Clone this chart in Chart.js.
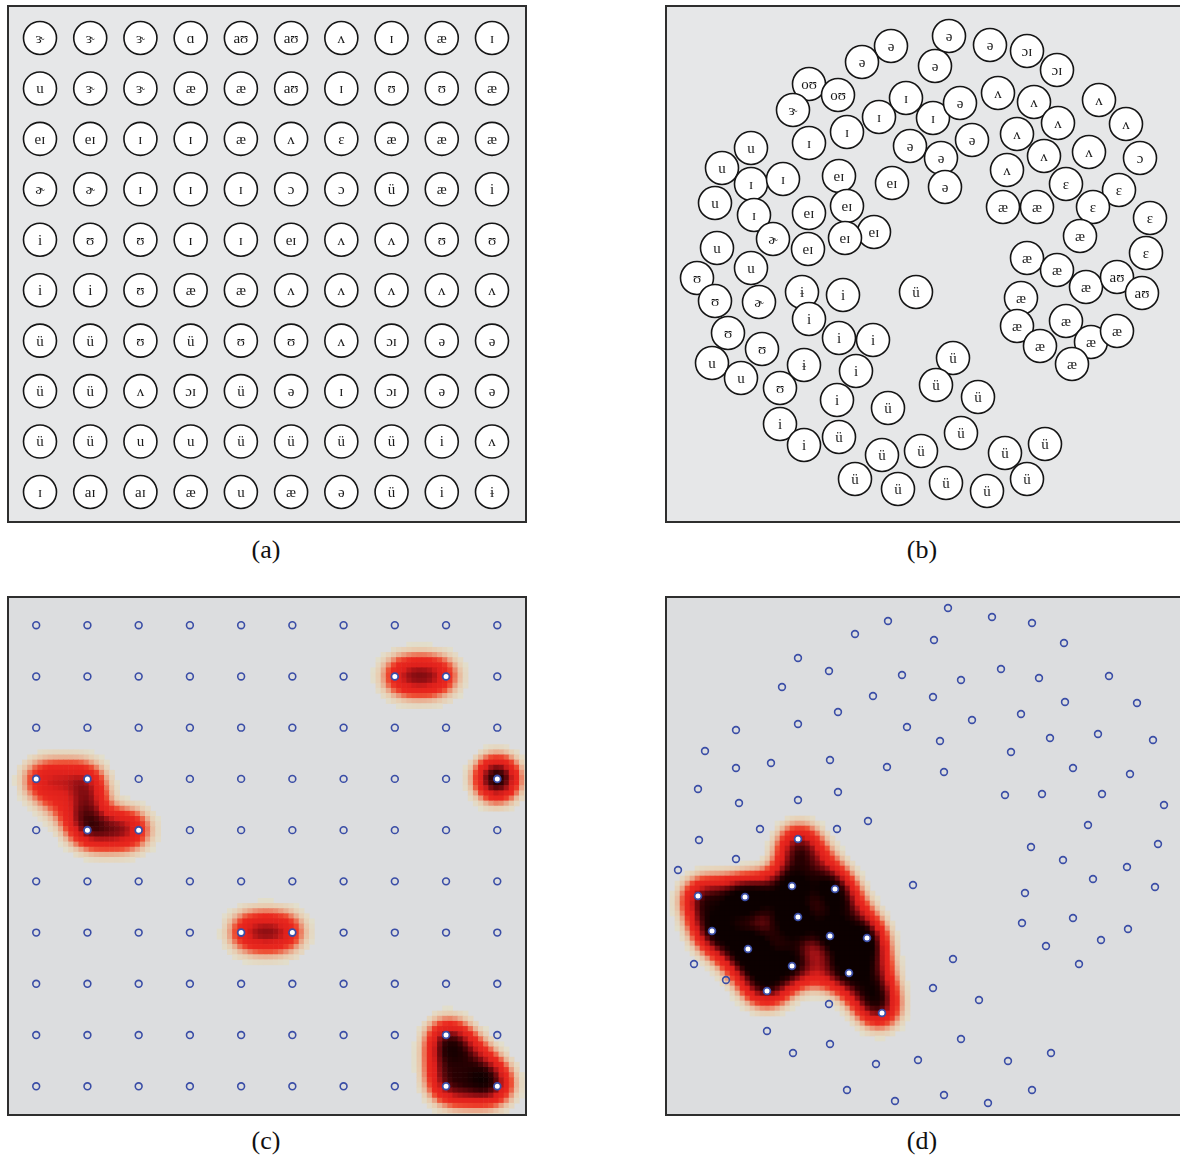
<!DOCTYPE html>
<html>
<head>
<meta charset="utf-8">
<script src="https://cdn.jsdelivr.net/npm/chart.js@4.4.0/dist/chart.umd.min.js"></script>
<style>
	html, body { margin: 0; padding: 0; background: #fff; width: 1180px; height: 1158px; overflow: hidden; }
	canvas { position: absolute; }
	.cap { position: absolute; width: 120px; text-align: center; font-family: "Liberation Serif", "Times New Roman", serif; font-size: 26px; line-height: 30px; color: #111; }
</style>
</head>
<body>
<canvas id="chart-a" width="520" height="518" style="left:7px;top:5px;width:520px;height:518px"></canvas>
<canvas id="chart-b" width="520" height="518" style="left:665px;top:5px;width:520px;height:518px"></canvas>
<canvas id="chart-c" width="520" height="520" style="left:7px;top:596px;width:520px;height:520px"></canvas>
<canvas id="chart-d" width="520" height="520" style="left:665px;top:596px;width:520px;height:520px"></canvas>
<div class="cap" style="left:206px;top:535px">(a)</div>
<div class="cap" style="left:862px;top:535px">(b)</div>
<div class="cap" style="left:206px;top:1126px">(c)</div>
<div class="cap" style="left:862px;top:1126px">(d)</div>
<script>
// ================ data ================
// (a) labels of the 10x10 map, row by row
const gridLabelsA = [
	["ɝ", "ɝ", "ɝ", "ɑ", "aʊ", "aʊ", "ʌ", "ɪ", "æ", "ɪ"],
	["u", "ɝ", "ɝ", "æ", "æ", "aʊ", "ɪ", "ʊ", "ʊ", "æ"],
	["eɪ", "eɪ", "ɪ", "ɪ", "æ", "ʌ", "ɛ", "æ", "æ", "æ"],
	["ɚ", "ɚ", "ɪ", "ɪ", "ɪ", "ɔ", "ɔ", "ü", "æ", "i"],
	["i", "ʊ", "ʊ", "ɪ", "ɪ", "eɪ", "ʌ", "ʌ", "ʊ", "ʊ"],
	["i", "i", "ʊ", "æ", "æ", "ʌ", "ʌ", "ʌ", "ʌ", "ʌ"],
	["ü", "ü", "ʊ", "ü", "ʊ", "ʊ", "ʌ", "ɔɪ", "ə", "ə"],
	["ü", "ü", "ʌ", "ɔɪ", "ü", "ə", "ɪ", "ɔɪ", "ə", "ə"],
	["ü", "ü", "u", "u", "ü", "ü", "ü", "ü", "i", "ʌ"],
	["ɪ", "aɪ", "aɪ", "æ", "u", "æ", "ə", "ü", "i", "ɨ"],
];

// (b) units of the self-organised map: [label, x, y]
const mapUnitsB = [
	["ə", 284, 31], ["ə", 226, 41], ["ə", 197, 57], ["ə", 325, 40], ["ɔɪ", 362, 46], ["ɔɪ", 392, 65], ["ə", 270, 61],
	["oʊ", 144, 79], ["oʊ", 173, 90], ["ɝ", 128, 105], ["ɪ", 241, 93], ["ɪ", 214, 112], ["ɪ", 182, 127], ["ɪ", 144, 138], ["ɪ", 268, 113],
	["ə", 295, 98], ["ə", 245, 141], ["ə", 276, 153], ["ə", 307, 135], ["ə", 280, 182],
	["ʌ", 333, 88], ["ʌ", 369, 97], ["ʌ", 393, 118], ["ʌ", 352, 129], ["ʌ", 379, 151], ["ʌ", 342, 165],
	["ʌ", 434, 95], ["ʌ", 461, 119], ["ʌ", 424, 147], ["ɔ", 475, 153],
	["ɛ", 401, 179], ["ɛ", 454, 185], ["ɛ", 428, 202], ["ɛ", 485, 213], ["ɛ", 481, 248],
	["æ", 338, 202], ["æ", 372, 202], ["æ", 415, 231], ["æ", 362, 253], ["æ", 392, 265], ["æ", 421, 282],
	["aʊ", 452, 272], ["aʊ", 477, 288],
	["æ", 356, 293], ["æ", 352, 321], ["æ", 375, 341], ["æ", 401, 316], ["æ", 426, 337], ["æ", 407, 359], ["æ", 452, 326],
	["u", 86, 143], ["u", 57, 163], ["ɪ", 86, 179], ["ɪ", 118, 174], ["u", 50, 198], ["ɪ", 89, 210],
	["eɪ", 174, 171], ["eɪ", 227, 178], ["eɪ", 144, 208], ["eɪ", 182, 201], ["eɪ", 209, 227], ["eɪ", 180, 233], ["eɪ", 143, 244],
	["ɚ", 108, 234], ["u", 52, 243], ["u", 86, 263], ["ʊ", 32, 273], ["ʊ", 50, 296], ["ɚ", 94, 297],
	["ʊ", 63, 328], ["ʊ", 97, 344], ["u", 47, 358], ["u", 76, 373],
	["ɨ", 137, 287], ["i", 178, 290], ["i", 144, 314], ["i", 174, 333], ["i", 208, 335], ["ɨ", 139, 360],
	["ʊ", 115, 383], ["i", 191, 366], ["i", 172, 395], ["i", 115, 419], ["i", 139, 440],
	["ü", 174, 432], ["ü", 223, 403], ["ü", 217, 450], ["ü", 190, 474], ["ü", 233, 484],
	["ü", 251, 287], ["ü", 288, 353], ["ü", 271, 380], ["ü", 313, 392], ["ü", 296, 428],
	["ü", 256, 446], ["ü", 281, 478], ["ü", 322, 486], ["ü", 340, 448], ["ü", 380, 439], ["ü", 362, 474],
];

// (c) active units on the grid [row, col], trajectory links [r1, c1, r2, c2, weight], spots [row, col, weight]
const activeC = [[2, 8], [2, 9], [4, 1], [4, 2], [5, 2], [5, 3], [4, 10], [7, 5], [7, 6], [9, 9], [10, 9], [10, 10]];
const trajC = [
	[2, 8, 2, 9, 1.0],
	[4, 1, 4, 2, 0.6], [4, 2, 5, 2, 0.85], [5, 2, 5, 3, 1.0], [4, 1, 5, 2, 0.3],
	[7, 5, 7, 6, 0.95],
	[9, 9, 10, 9, 0.9], [10, 9, 10, 10, 1.0], [9, 9, 10, 10, 1.0],
];
const spotsC = [[4, 10, 1.4]];

// (d) inactive units [x, y], active units [x, y], trajectory links between active units [i, j, weight]
const unitsD = [
	[283, 12], [223, 25], [327, 21], [367, 27], [190, 38], [269, 44], [399, 47], [133, 62], [164, 75], [237, 79],
	[296, 84], [336, 73], [374, 82], [444, 80], [117, 91], [208, 100], [268, 101], [400, 106], [472, 107], [173, 116],
	[356, 118], [71, 134], [133, 128], [242, 131], [307, 124], [433, 138], [385, 142], [488, 144], [275, 145], [40, 155],
	[71, 172], [106, 167], [165, 164], [222, 171], [279, 176], [346, 156], [408, 172], [465, 178], [33, 193], [74, 207],
	[133, 204], [173, 196], [340, 199], [377, 198], [437, 198], [499, 209], [203, 225], [423, 229], [95, 233], [172, 233],
	[34, 244], [366, 251], [493, 248], [71, 263], [398, 264], [462, 271], [13, 274], [428, 283], [490, 291], [248, 289],
	[360, 297], [357, 327], [408, 322], [463, 333], [436, 344], [381, 350], [414, 368], [288, 363], [268, 392], [314, 404],
	[29, 368], [61, 384], [164, 408], [102, 435], [128, 457], [165, 448], [211, 468], [253, 464], [296, 443], [343, 465],
	[386, 457], [182, 494], [230, 505], [279, 499], [323, 507], [367, 494],
];
const activeD = [
	[133, 243], [33, 300], [80, 301], [127, 290], [170, 293], [133, 321], [47, 335],
	[83, 353], [165, 340], [202, 342], [127, 370], [184, 377], [102, 395], [217, 417],
];
const trajD = [
	[0, 3, 0.9], [0, 4, 0.7], [1, 2, 0.9], [2, 3, 0.9], [3, 4, 0.9], [1, 6, 0.9], [2, 6, 0.8], [3, 5, 0.9],
	[2, 5, 0.8], [4, 8, 0.9], [4, 9, 0.8], [5, 8, 0.9], [5, 7, 0.8], [6, 7, 0.9], [7, 10, 0.9], [7, 12, 0.9],
	[10, 12, 0.9], [5, 10, 0.9], [8, 11, 0.9], [8, 9, 0.9], [9, 11, 0.9], [11, 13, 0.9], [9, 13, 0.9], [10, 11, 0.6],
	[2, 7, 0.6], [6, 12, 0.5],
];

// colour ramp of the activation map
const HEAT_STOPS = [
	[0.04, [226, 222, 204]],
	[0.1, [232, 206, 178]],
	[0.18, [234, 162, 132]],
	[0.28, [238, 82, 54]],
	[0.4, [234, 40, 30]],
	[0.68, [222, 32, 28]],
	[0.88, [152, 16, 20]],
	[1.05, [104, 8, 12]],
	[1.3, [42, 0, 2]],
	[1.6, [12, 0, 0]],
];

const NODE_BLUE = "#3a4da6";
const LABEL_FONT = '15px "Liberation Serif", "DejaVu Serif", serif';

// ================ helpers ================
function erf(x) {
	const s = Math.sign(x);
	x = Math.abs(x);
	const t = 1 / (1 + 0.3275911 * x);
	const y = 1 - ((((1.061405429 * t - 1.453152027) * t + 1.421413741) * t - 0.284496736) * t + 0.254829592) * t * Math.exp(-x * x);
	return s * y;
}
function phi(z) {
	return 0.5 * (1 + erf(z / Math.SQRT2));
}
// gaussian smeared along a link a->b
function linkHeat(px, py, ax, ay, bx, by, w, s) {
	const dx = bx - ax, dy = by - ay;
	const len = Math.hypot(dx, dy);
	const ux = dx / len, uy = dy / len;
	const t = (px - ax) * ux + (py - ay) * uy;
	const perp = -(px - ax) * uy + (py - ay) * ux;
	return w * Math.exp(-perp * perp / (2 * s * s)) * (phi((len - t) / s) - phi(-t / s));
}
function spotHeat(px, py, cx, cy, w, s) {
	const d2 = (px - cx) ** 2 + (py - cy) ** 2;
	return w * Math.exp(-d2 / (2 * s * s));
}
function heatColor(v) {
	const s = HEAT_STOPS;
	if (v >= s[s.length - 1][0]) return `rgb(${s[s.length - 1][1].join(",")})`;
	for (let i = 1; i < s.length; i++) {
		if (v < s[i][0]) {
			const t = (v - s[i - 1][0]) / (s[i][0] - s[i - 1][0]);
			const c = s[i - 1][1].map((a, k) => Math.round(a + (s[i][1][k] - a) * t));
			return `rgb(${c.join(",")})`;
		}
	}
}
function buildHeat(xr, yr, step, field) {
	const cells = [];
	const colors = [];
	for (let y = yr[0] + step / 2; y < yr[1]; y += step) {
		for (let x = xr[0] + step / 2; x < xr[1]; x += step) {
			const v = field(x, y);
			if (v < 0.04) continue;
			cells.push({ x, y });
			colors.push(heatColor(v));
		}
	}
	return { cells, colors };
}

function framePlugin(bg) {
	return {
		id: "frame",
		beforeDraw(chart) {
			const { ctx, chartArea: a } = chart;
			ctx.save();
			ctx.fillStyle = bg;
			ctx.fillRect(a.left, a.top, a.right - a.left, a.bottom - a.top);
			ctx.restore();
		},
		afterDraw(chart) {
			const { ctx, chartArea: a } = chart;
			ctx.save();
			ctx.strokeStyle = "#2e2e2e";
			ctx.lineWidth = 2;
			ctx.strokeRect(a.left + 1, a.top + 1, a.right - a.left - 2, a.bottom - a.top - 2);
			ctx.restore();
		},
	};
}

const labelPlugin = {
	id: "ipaLabels",
	afterDatasetsDraw(chart) {
		const ctx = chart.ctx;
		const ds = chart.data.datasets[0];
		const meta = chart.getDatasetMeta(0);
		ctx.save();
		ctx.font = LABEL_FONT;
		ctx.fillStyle = "#1a1a1a";
		ctx.textAlign = "center";
		ctx.textBaseline = "middle";
		meta.data.forEach((pt, i) => ctx.fillText(ds.data[i].label, pt.x, pt.y + 1));
		ctx.restore();
	},
};

function baseOptions(xr, yr) {
	return {
		responsive: false,
		animation: false,
		events: [],
		devicePixelRatio: 1,
		layout: { padding: 0, autoPadding: false },
		plugins: { legend: { display: false }, tooltip: { enabled: false } },
		scales: {
			x: { type: "linear", min: xr[0], max: xr[1], display: false },
			y: { type: "linear", min: yr[0], max: yr[1], reverse: true, display: false },
		},
	};
}

function circleDataset(data) {
	return {
		data,
		pointRadius: 16.5,
		pointBackgroundColor: "#ffffff",
		pointBorderColor: "#151515",
		pointBorderWidth: 1.6,
	};
}

// ================ (a) ================
const xrA = [0.343, 10.697];
const yrA = [0.346, 10.615];
const dataA = [];
gridLabelsA.forEach((row, r) => row.forEach((label, c) => dataA.push({ x: c + 1, y: r + 1, label })));
new Chart(document.getElementById("chart-a"), {
	type: "scatter",
	data: { datasets: [circleDataset(dataA)] },
	options: baseOptions(xrA, yrA),
	plugins: [framePlugin("#e6e7e8"), labelPlugin],
});

// ================ (b) ================
const dataB = mapUnitsB.map(([label, x, y]) => ({ x, y, label }));
new Chart(document.getElementById("chart-b"), {
	type: "scatter",
	data: { datasets: [circleDataset(dataB)] },
	options: baseOptions([0, 520], [0, 518]),
	plugins: [framePlugin("#e6e7e8"), labelPlugin],
});

// ================ (c) ================
const xrC = [0.43, 10.58];
const yrC = [0.43, 10.58];
const sigmaC = 0.25;
const heatC = buildHeat(xrC, yrC, 0.1, (x, y) => {
	let v = 0;
	for (const [r1, c1, r2, c2, w] of trajC) v += linkHeat(x, y, c1, r1, c2, r2, w, sigmaC);
	for (const [r, c, w] of spotsC) v += spotHeat(x, y, c, r, w, sigmaC);
	return v;
});
const isActiveC = (r, c) => activeC.some(([ar, ac]) => ar === r && ac === c);
const idleC = [];
for (let r = 1; r <= 10; r++) for (let c = 1; c <= 10; c++) if (!isActiveC(r, c)) idleC.push({ x: c, y: r });
const pxPerUnitC = 520 / (xrC[1] - xrC[0]);

new Chart(document.getElementById("chart-c"), {
	type: "scatter",
	data: {
		datasets: [
			{ data: activeC.map(([r, c]) => ({ x: c, y: r })), pointRadius: 3.4, pointBackgroundColor: "#ffffff", pointBorderColor: NODE_BLUE, pointBorderWidth: 1.8 },
			{ data: idleC, pointRadius: 3.4, pointBackgroundColor: "rgba(0,0,0,0)", pointBorderColor: NODE_BLUE, pointBorderWidth: 1.6 },
			{ data: heatC.cells, pointStyle: "rect", pointRadius: (0.1 * pxPerUnitC + 0.6) / Math.SQRT2, pointBackgroundColor: heatC.colors, pointBorderWidth: 0 },
		],
	},
	options: baseOptions(xrC, yrC),
	plugins: [framePlugin("#dcdddf")],
});

// ================ (d) ================
const sigmaD = 12.5;
const heatD = buildHeat([0, 520], [0, 520], 5, (x, y) => {
	let v = 0;
	for (const [i, j, w] of trajD) v += linkHeat(x, y, activeD[i][0], activeD[i][1], activeD[j][0], activeD[j][1], w, sigmaD);
	return v;
});

new Chart(document.getElementById("chart-d"), {
	type: "scatter",
	data: {
		datasets: [
			{ data: activeD.map(([x, y]) => ({ x, y })), pointRadius: 3.4, pointBackgroundColor: "#ffffff", pointBorderColor: NODE_BLUE, pointBorderWidth: 1.8 },
			{ data: unitsD.map(([x, y]) => ({ x, y })), pointRadius: 3.4, pointBackgroundColor: "rgba(0,0,0,0)", pointBorderColor: NODE_BLUE, pointBorderWidth: 1.6 },
			{ data: heatD.cells, pointStyle: "rect", pointRadius: 5.6 / Math.SQRT2, pointBackgroundColor: heatD.colors, pointBorderWidth: 0 },
		],
	},
	options: baseOptions([0, 520], [0, 520]),
	plugins: [framePlugin("#dcdddf")],
});
</script>
</body>
</html>
